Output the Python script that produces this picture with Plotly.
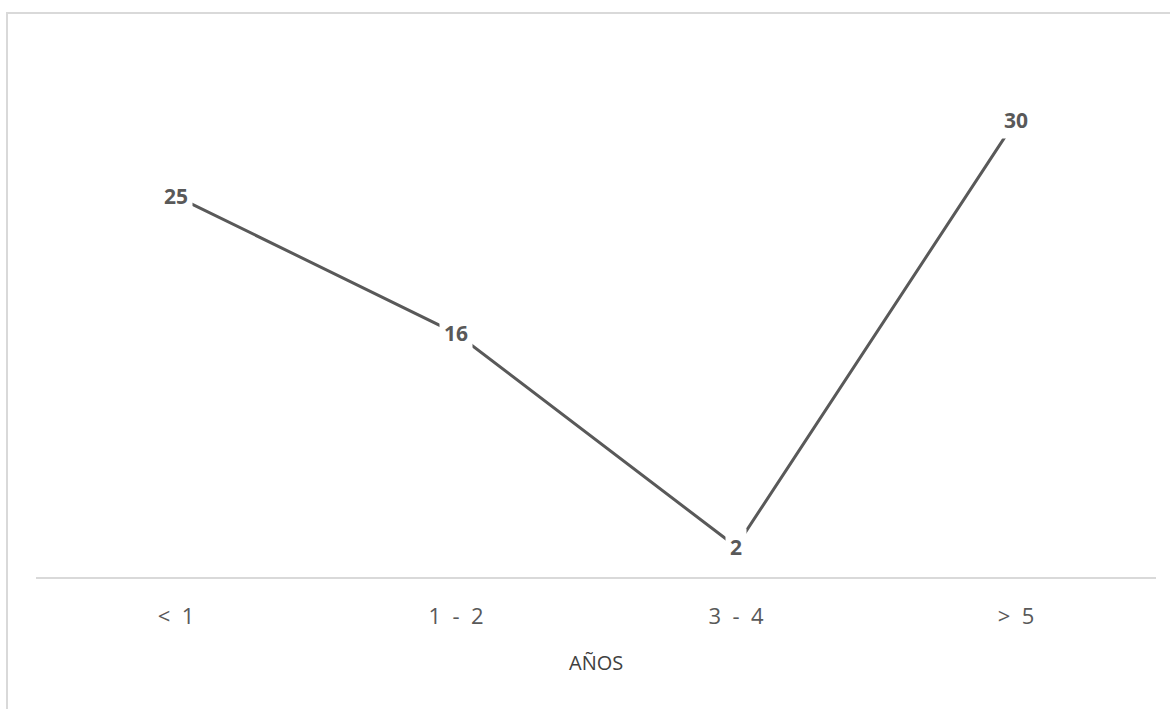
import plotly.graph_objects as go

categories = ["< 1", "1 - 2", "3 - 4", "> 5"]
values = [25, 16, 2, 30]
axis_title = "AÑOS"

line_color = "#595959"
grid_color = "#d9d9d9"

# wider spacing inside the category labels, as in the reference
tick_text = [c.replace(" ", "\u00a0\u00a0") for c in categories]

fig = go.Figure()
fig.add_trace(go.Scatter(
    x=categories, y=values, mode="lines",
    line=dict(color=line_color, width=3),
    hoverinfo="skip", showlegend=False,
))

for c, v in zip(categories, values):
    fig.add_annotation(
        x=c, y=v, xref="x", yref="y", text=f"<b>{v}</b>",
        showarrow=False, bgcolor="white", borderpad=4,
        font=dict(family="Open Sans", size=21, color=line_color),
    )

fig.add_annotation(
    x=0.5, y=-0.161, xref="paper", yref="paper", text=axis_title,
    showarrow=False, xanchor="center", yanchor="middle",
    font=dict(family="Open Sans", size=20, color="#404040"),
)

fig.add_shape(type="rect", xref="paper", yref="paper",
              x0=-0.0259, x1=1.05, y0=-0.4, y1=1.0582,
              line=dict(color=grid_color, width=2), fillcolor="rgba(0,0,0,0)", layer="below")

fig.update_layout(
    width=1170, height=709,
    margin=dict(l=36, r=14, t=44, b=132),
    paper_bgcolor="white", plot_bgcolor="white",
    xaxis=dict(
        type="category", range=[-0.5, 3.5],
        tickmode="array", tickvals=categories, ticktext=tick_text,
        showline=True, linecolor=grid_color, linewidth=1.5,
        showgrid=False, ticks="outside", ticklen=19, tickcolor="rgba(0,0,0,0)",
        zeroline=False,
        tickfont=dict(family="Open Sans", size=22, color=line_color),
    ),
    yaxis=dict(range=[0, 35], visible=False, showgrid=False, zeroline=False),
)

fig.write_html("out.html", config={"displayModeBar": False},
               post_script="document.body.style.margin='0';")
